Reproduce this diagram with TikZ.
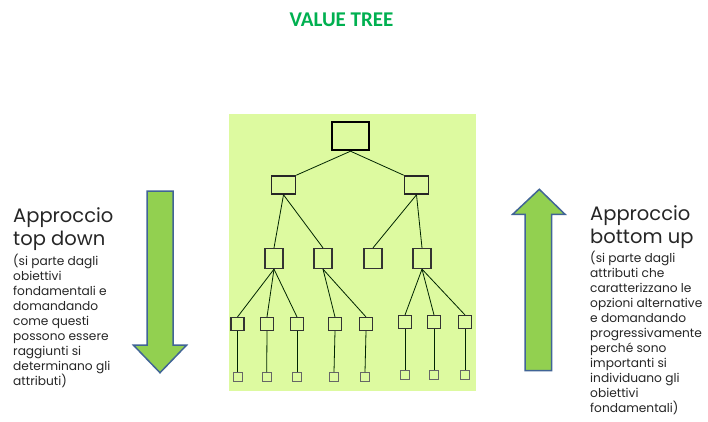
\documentclass[tikz,border=0pt]{standalone}
\usepackage{fontspec}
\setmainfont{Poppins}
\newfontfamily\titlefont{Carlito}
\begin{document}
\begin{tikzpicture}[x=1pt,y=-1pt,
  bigtxt/.style={font=\fontsize{19.5}{23}\selectfont, text=black!85, anchor=base west, align=left, inner sep=0pt},
  smalltxt/.style={font=\fontsize{12.2}{15}\selectfont, text=black!85, anchor=base west, align=left, inner sep=0pt},
  treeline/.style={draw=black!65!green!40!black, line width=0.8pt},
  rootbox/.style={draw=black, line width=2.4pt, minimum width=37pt, minimum height=28pt, inner sep=0pt},
  midbox/.style={draw=black!85, line width=1.6pt, minimum width=24pt, minimum height=18pt, inner sep=0pt},
  lvbox/.style={draw=black!80, line width=1.3pt, minimum width=18pt, minimum height=20pt, inner sep=0pt},
  attbox/.style={draw=black!80, line width=1.1pt, minimum width=13pt, minimum height=13pt, inner sep=0pt},
  leafbox/.style={draw=black!60, line width=0.9pt, minimum width=9pt, minimum height=9pt, inner sep=0pt},
  bigarrow/.style={fill=arrowgreen, draw=arrowblue, line width=1.5pt, line join=miter}
]
\definecolor{titlegreen}{RGB}{0,176,80}
\definecolor{panelgreen}{RGB}{221,250,160}
\definecolor{arrowgreen}{RGB}{146,208,80}
\definecolor{arrowblue}{RGB}{65,100,150}

\useasboundingbox (0,0) rectangle (708,421);
\fill[white] (0,0) rectangle (708,421);

% title
\node[font=\titlefont\bfseries\fontsize{21}{24}\selectfont, text=titlegreen] (title) at (341.5,20) {VALUE TREE};

% panel behind the tree
\fill[panelgreen] (229,114) rectangle (476,391);

% tree nodes
\node[rootbox] (r) at (350.5,136) {};
\node[midbox] (a) at (283.5,185) {};
\node[midbox] (b) at (416.5,185) {};
\node[lvbox] (a1) at (274,258.5) {};
\node[lvbox] (a2) at (323,258.5) {};
\node[lvbox] (b1) at (373,258.5) {};
\node[lvbox] (b2) at (422,258.5) {};
\foreach \n/\x/\y in {t1/237.5/324, t2/267/324, t3/297/324, t4/335/324, t5/366/324,
                      t6/405/322, t7/434/322, t8/465/322}
  \node[attbox] (\n) at (\x,\y) {};
\foreach \n/\x/\y in {l1/237.5/377, l2/266.7/377, l3/297/377, l4/334/377, l5/365/377,
                      l6/405/374.5, l7/434/374.5, l8/465/374.5}
  \node[leafbox] (\n) at (\x,\y) {};

% connectors
\draw[treeline] (r.south) -- (a.north east);
\draw[treeline] (r.south) -- (b.north west);
\draw[treeline] (a.south) -- (a1.north);
\draw[treeline] (a.south) -- (a2.north);
\draw[treeline] (b.south) -- (b1.north);
\draw[treeline] (b.south) -- (b2.north);
\foreach \c in {t1,t2,t3} \draw[treeline] (a1.south) -- (\c.north);
\foreach \c in {t4,t5} \draw[treeline] (a2.south) -- (\c.north);
\foreach \c in {t6,t7,t8} \draw[treeline] (b2.south) -- (\c.north);
\foreach \i in {1,...,8} \draw[treeline] (t\i.south) -- (l\i.north);

% big arrows
\draw[bigarrow] (147,191) -- (173,191) -- (173,345) -- (186.7,345) -- (160,372.7)
  -- (133.3,345) -- (147,345) -- cycle;
\draw[bigarrow] (525,370.7) -- (551.7,370.7) -- (551.7,214.3) -- (565,214.3) -- (539.3,189.3)
  -- (512.7,214.3) -- (525,214.3) -- cycle;

% left description (anchored at the baseline of the last line)
\node[bigtxt] (ltop) at (13,245) {Approccio\\top down};
\node[smalltxt] (ltxt) at (13,385)
  {(si parte dagli\\obiettivi\\fondamentali e\\domandando\\come questi\\possono essere\\raggiunti si\\determinano gli\\attributi)};

% right description
\node[bigtxt] (rtop) at (590,243) {Approccio\\bottom up};
\node[smalltxt] (rtxt) at (590,412)
  {(si parte dagli\\attributi che\\caratterizzano le\\opzioni alternative\\e domandando\\progressivamente\\perché sono\\importanti si\\individuano gli\\obiettivi\\fondamentali)};
\end{tikzpicture}
\end{document}
